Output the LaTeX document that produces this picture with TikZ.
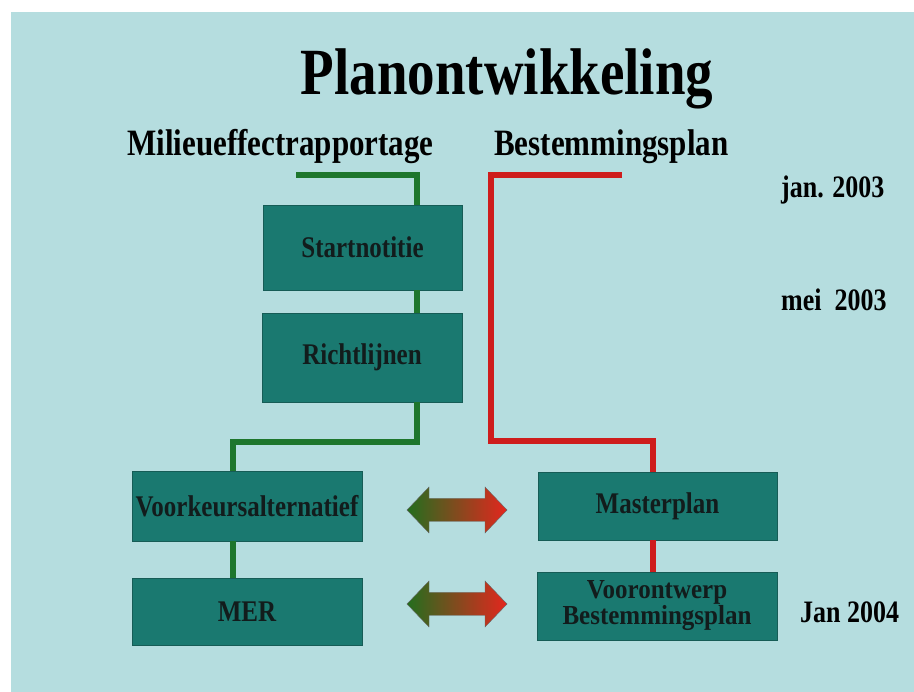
\documentclass[tikz,border=0pt]{standalone}
\usepackage{fontspec}
\setmainfont{Liberation Serif}
\usepackage{graphicx}
\definecolor{bgblue}{RGB}{181,221,223}
\definecolor{boxteal}{RGB}{26,121,112}
\definecolor{boxedge}{RGB}{22,92,86}
\definecolor{lgreen}{RGB}{30,118,45}
\definecolor{lred}{RGB}{206,28,28}
\definecolor{agreen}{RGB}{35,110,30}
\definecolor{amid}{RGB}{200,70,30}
\definecolor{ared}{RGB}{228,38,30}
\definecolor{txt}{RGB}{18,28,28}
\newcommand\vst[1]{\scalebox{1}[1.2]{#1}}
\newcommand\vsm[1]{\scalebox{1}[1.1]{#1}}
\tikzset{
  stage/.style={draw=boxedge, line width=0.8pt, fill=boxteal, text=txt,
    font=\fontsize{25}{27}\selectfont\bfseries, inner sep=0pt, align=center},
  gline/.style={draw=lgreen, line width=6pt},
  rline/.style={draw=lred, line width=6pt},
  hdr/.style={font=\fontsize{31}{33}\selectfont\bfseries, inner sep=0pt, anchor=base west},
  datelbl/.style={font=\fontsize{26}{28}\selectfont\bfseries, inner sep=0pt, anchor=base west},
  dblarrow/.style={left color=agreen, middle color=amid, right color=ared, draw=black!60, line width=0.4pt}
}
\begin{document}
\begin{tikzpicture}[x=1pt,y=-1pt]
\useasboundingbox (0,0) rectangle (914,692);
\fill[white] (0,0) rectangle (914,692);
\fill[bgblue] (11,12) rectangle (914,692);

% title and headers
\node[font=\fontsize{55}{60}\selectfont\bfseries, inner sep=0pt, anchor=base] (title) at (507,95) {\vst{Planontwikkeling}};
\node[hdr] (hmer) at (127,156) {\vst{Milieueffectrapportage}};
\node[hdr] (hbp) at (494,156) {\vst{Bestemmingsplan}};

% dates
\node[datelbl] (d1) at (781,198) {\vst{jan. 2003}};
\node[datelbl] (d2) at (781,311) {\vst{mei\ \ 2003}};
\node[datelbl] (d3) at (800,623) {\vst{Jan 2004}};

% boxes
\node[stage, minimum width=199pt, minimum height=85pt] (s) at (362.5,247.5) {\vst{Startnotitie}};
\node[stage, minimum width=200pt, minimum height=89pt] (r) at (362,357.5) {\vst{Richtlijnen}};
\node[stage, minimum width=230pt, minimum height=70pt] (v) at (247,506) {\vst{Voorkeursalternatief}};
\node[stage, minimum width=230pt, minimum height=67pt] (m) at (247,611.5) {\vst{MER}};
\node[stage, minimum width=239pt, minimum height=68pt] (mp) at (657.5,506) {\vst{Masterplan}};
\node[stage, minimum width=240pt, minimum height=68pt] (vo) at (657,606) {\vsm{Voorontwerp}\\[-1pt]\vsm{Bestemmingsplan}};

% green connectors
\coordinate (gstart) at (296,175);
\coordinate (gx) at (417,175);
\coordinate (gy) at (233,442);
\draw[gline] (gstart) -- (gx) -- (gx |- s.north);
\draw[gline] (gx |- s.south) -- (gx |- r.north);
\draw[gline] (gx |- r.south) |- (gy) -- (gy |- v.north);
\draw[gline] (gy |- v.south) -- (gy |- m.north);

% red connectors
\coordinate (rstart) at (622,175);
\coordinate (rx) at (491,175);
\coordinate (ry) at (653,441);
\draw[rline] (rstart) -- (rx) |- (ry) -- (ry |- mp.north);
\draw[rline] (ry |- mp.south) -- (ry |- vo.north);

% double arrows
\shade[dblarrow] (407,510) -- (429,487) -- (429,498.5) -- (485,498.5) -- (485,487) -- (507,510)
  -- (485,533) -- (485,521.5) -- (429,521.5) -- (429,533) -- cycle;
\shade[dblarrow] (407,604) -- (429,581) -- (429,592.5) -- (485,592.5) -- (485,581) -- (507,604)
  -- (485,627) -- (485,615.5) -- (429,615.5) -- (429,627) -- cycle;
\end{tikzpicture}
\end{document}
